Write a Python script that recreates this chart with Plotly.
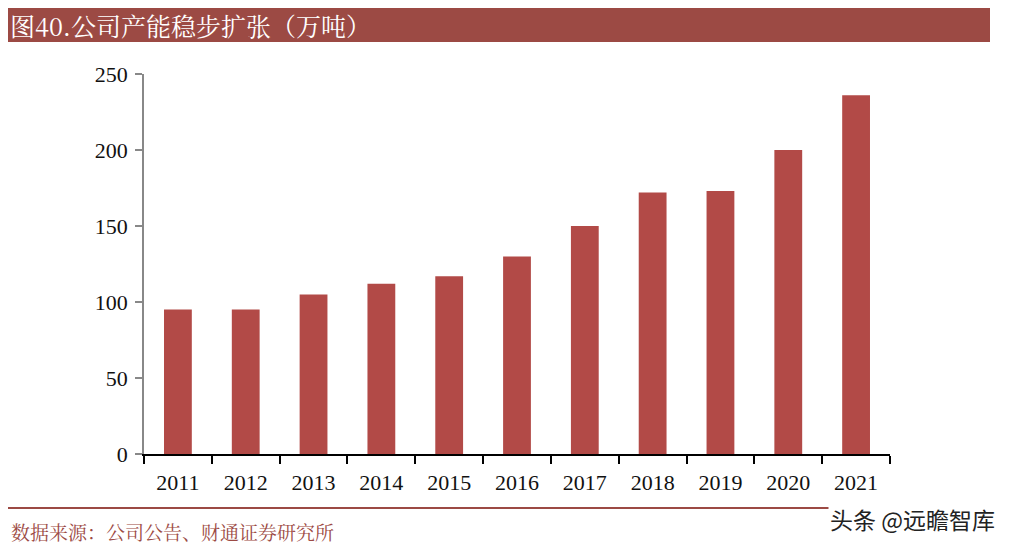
import plotly.graph_objects as go

years = ["2011", "2012", "2013", "2014", "2015", "2016", "2017", "2018", "2019", "2020", "2021"]
capacity = [95, 95, 105, 112, 117, 130, 150, 172, 173, 200, 236]
y_ticks = [0, 50, 100, 150, 200, 250]

title_text = "图40.公司产能稳步扩张（万吨）"
source_text = "数据来源：公司公告、财通证券研究所"
watermark_text = "头条 @远瞻智库"

# page body has an 8px offset; figure coordinates are reference pixels minus 8
OFF = 8
W, H = 1003, 540
L, R, T, B = 144 - OFF, 890 - OFF, 74 - OFF, 454 - OFF
PW, PH = R - L, B - T


def px(x):
    return (x - OFF - L) / PW


def py(y):
    return (B - (y - OFF)) / PH


fig = go.Figure()
fig.add_trace(go.Bar(
    x=years, y=capacity,
    marker=dict(color="#b24a47", line=dict(width=0)),
    width=0.41,
))

fig.update_layout(
    width=W, height=H,
    margin=dict(l=L, r=W - R, t=T, b=H - B),
    paper_bgcolor="white", plot_bgcolor="white",
    showlegend=False,
    font=dict(family="Liberation Serif, serif", color="#111111"),
    xaxis=dict(
        type="category",
        tickson="boundaries",
        ticks="outside", ticklen=8, tickcolor="#000000", tickwidth=1.5,
        showline=True, linecolor="#000000", linewidth=1.5,
        showgrid=False,
        ticklabelstandoff=8,
        tickfont=dict(size=22, family="Liberation Serif, serif", color="#111111"),
        range=[-0.5, 10.5],
    ),
    yaxis=dict(
        range=[0, 250], tickvals=y_ticks,
        ticks="outside", ticklen=7, tickcolor="#888888", tickwidth=1.5,
        showline=True, linecolor="#888888", linewidth=1.5,
        showgrid=False, zeroline=False,
        ticklabelstandoff=3,
        tickfont=dict(size=22, family="Liberation Serif, serif", color="#111111"),
    ),
    shapes=[
        dict(type="rect", xref="paper", yref="paper",
             x0=px(5), x1=px(990), y0=py(42), y1=py(5),
             fillcolor="#9c4a44", line=dict(width=0), layer="below"),
        dict(type="line", xref="paper", yref="paper",
             x0=px(8), x1=px(985), y0=py(508), y1=py(508),
             line=dict(color="#9c4a44", width=2)),
    ],
    annotations=[
        dict(text=title_text, xref="paper", yref="paper",
             x=px(9), y=py(25), xanchor="left", yanchor="middle",
             showarrow=False, borderpad=0,
             font=dict(size=25, color="white", family="Noto Serif CJK SC, Noto Sans CJK SC, serif")),
        dict(text=source_text, xref="paper", yref="paper",
             x=px(9), y=py(531), xanchor="left", yanchor="middle",
             showarrow=False,
             font=dict(size=19, color="#9c4a44", family="Noto Serif CJK SC, Noto Sans CJK SC, serif")),
        dict(text=watermark_text, xref="paper", yref="paper",
             x=px(997), y=py(519), xanchor="right", yanchor="middle",
             showarrow=False, bgcolor="white",
             font=dict(size=23, color="#222222", family="Noto Sans CJK SC, sans-serif")),
    ],
)

fig.write_html("out.html")
